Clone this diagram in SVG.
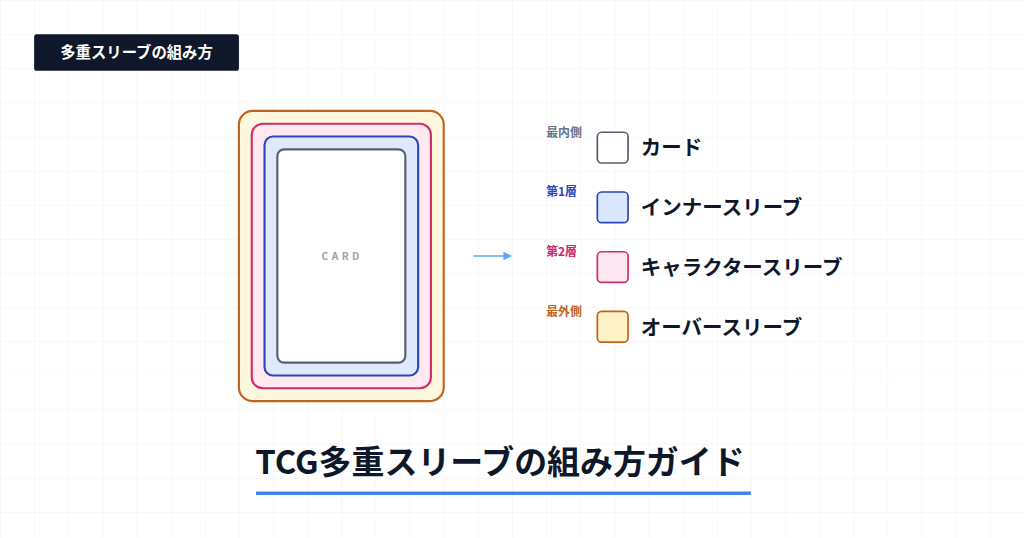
<svg xmlns="http://www.w3.org/2000/svg" width="1024" height="538" viewBox="0 0 1024 538">
  <defs>
    <pattern id="grid" width="40" height="40" patternUnits="userSpaceOnUse">
      <path d="M40 0H0V40" fill="none" stroke="#eef0f3" stroke-width="1"/>
    </pattern>
    <marker id="arrow" viewBox="0 0 10 10" refX="9" refY="5" markerWidth="5" markerHeight="5" orient="auto" markerUnits="strokeWidth">
      <path d="M0 0L10 5L0 10Z" fill="#60a5fa"/>
    </marker>
  </defs>
  <style>
    text { font-family: "Noto Sans CJK JP", "Noto Sans", sans-serif; }
    .tag { fill: #ffffff; font-size: 18px; font-weight: 700; }
    .small { font-size: 14px; font-weight: 700; }
    .lbl { fill: #0f172a; font-size: 24px; font-weight: 700; }
    .layer { stroke-width: 2.5; }
  </style>
  <g transform="scale(0.853333)">
    <rect width="1200" height="630" fill="#ffffff"/>
    <rect width="1200" height="630" fill="url(#grid)"/>

    <g id="tag">
      <rect x="40" y="40" width="240" height="43" rx="3" fill="#0f172a"/>
      <text class="tag" x="160" y="68" text-anchor="middle">多重スリーブの組み方</text>
    </g>

    <g id="card-stack">
      <g id="over-sleeve"><rect class="layer" x="280" y="130" width="240" height="340" rx="16" fill="#fef8df" stroke="#c2621f"/></g>
      <g id="character-sleeve"><rect class="layer" x="295" y="145" width="210" height="310" rx="13" fill="#fde9ef" stroke="#d0306a"/></g>
      <g id="inner-sleeve"><rect class="layer" x="310" y="160" width="180" height="280" rx="10" fill="#e0e8fb" stroke="#2b48b8"/></g>
      <g id="card">
        <rect class="layer" x="325" y="175" width="150" height="250" rx="8" fill="#ffffff" stroke="#566170"/>
        <text x="401" y="305" text-anchor="middle" font-size="12" font-weight="700" fill="#9aa1b2" letter-spacing="4">CARD</text>
      </g>
    </g>

    <g id="connectors">
      <line x1="555" y1="300" x2="599" y2="300" stroke="#60a5fa" stroke-width="2" marker-end="url(#arrow)"/>
    </g>

    <g id="legend-card">
      <text class="small" x="640" y="160" fill="#64748b">最内側</text>
      <rect x="700" y="155" width="36" height="36" rx="5" fill="#ffffff" stroke="#566170" stroke-width="2"/>
      <text class="lbl" x="751" y="182">カード</text>
    </g>
    <g id="legend-inner">
      <text class="small" x="640" y="230" fill="#2b48b8">第1層</text>
      <rect x="700" y="225" width="36" height="36" rx="5" fill="#dbe7fd" stroke="#2b48b8" stroke-width="2"/>
      <text class="lbl" x="751" y="252">インナースリーブ</text>
    </g>
    <g id="legend-character">
      <text class="small" x="640" y="300" fill="#c8266a">第2層</text>
      <rect x="700" y="295" width="36" height="36" rx="5" fill="#fce7f3" stroke="#d0306a" stroke-width="2"/>
      <text class="lbl" x="751" y="322">キャラクタースリーブ</text>
    </g>
    <g id="legend-over">
      <text class="small" x="640" y="370" fill="#c2621f">最外側</text>
      <rect x="700" y="365" width="36" height="36" rx="5" fill="#fef3c7" stroke="#c2621f" stroke-width="2"/>
      <text class="lbl" x="751" y="392">オーバースリーブ</text>
    </g>

    <g id="title">
      <text x="299" y="556" font-size="38.6" font-weight="700" fill="#0f172a">TCG多重スリーブの組み方ガイド</text>
      <rect x="300" y="576" width="580" height="4" fill="#3b82f6"/>
    </g>
  </g>
</svg>
